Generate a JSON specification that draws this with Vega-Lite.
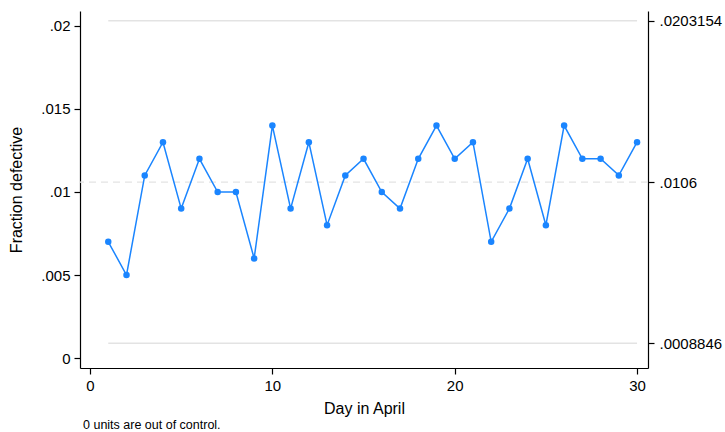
{
  "$schema": "https://vega.github.io/schema/vega-lite/v6.json",
  "width": 568,
  "height": 357,
  "autosize": {"type": "none"},
  "padding": {"left": 80, "top": 11, "right": 77, "bottom": 64},
  "background": "white",
  "config": {
    "view": {"stroke": null},
    "font": "Liberation Sans",
    "axis": {
      "grid": false,
      "domainColor": "#000000",
      "domainWidth": 1.2,
      "tickColor": "#000000",
      "tickWidth": 1.2,
      "tickSize": 6,
      "labelFont": "Liberation Sans",
      "labelFontSize": 15,
      "labelColor": "#000000",
      "titleFont": "Liberation Sans",
      "titleFontSize": 16,
      "titleFontWeight": "normal",
      "titleColor": "#000000"
    }
  },
  "title": {
    "text": "0 units are out of control.",
    "orient": "bottom",
    "anchor": "start",
    "frame": "group",
    "fontSize": 12.5,
    "fontWeight": "normal",
    "font": "Liberation Sans",
    "color": "#000000",
    "dx": 3,
    "offset": 3
  },
  "datasets": {
    "samples": [
      {"day": 1, "p": 0.007}, {"day": 2, "p": 0.005}, {"day": 3, "p": 0.011},
      {"day": 4, "p": 0.013}, {"day": 5, "p": 0.009}, {"day": 6, "p": 0.012},
      {"day": 7, "p": 0.010}, {"day": 8, "p": 0.010}, {"day": 9, "p": 0.006},
      {"day": 10, "p": 0.014}, {"day": 11, "p": 0.009}, {"day": 12, "p": 0.013},
      {"day": 13, "p": 0.008}, {"day": 14, "p": 0.011}, {"day": 15, "p": 0.012},
      {"day": 16, "p": 0.010}, {"day": 17, "p": 0.009}, {"day": 18, "p": 0.012},
      {"day": 19, "p": 0.014}, {"day": 20, "p": 0.012}, {"day": 21, "p": 0.013},
      {"day": 22, "p": 0.007}, {"day": 23, "p": 0.009}, {"day": 24, "p": 0.012},
      {"day": 25, "p": 0.008}, {"day": 26, "p": 0.014}, {"day": 27, "p": 0.012},
      {"day": 28, "p": 0.012}, {"day": 29, "p": 0.011}, {"day": 30, "p": 0.013}
    ],
    "limits": [
      {"first": 1, "last": 30, "ucl": 0.0203154, "cl": 0.0106, "lcl": 0.0008846}
    ]
  },
  "resolve": {"axis": {"y": "independent"}},
  "layer": [
    {
      "data": {"name": "limits"},
      "mark": {"type": "rule", "color": "#e3e3e3", "strokeWidth": 1.3, "strokeDash": [7, 5]},
      "encoding": {
        "y": {
          "field": "cl", "type": "quantitative",
          "scale": {"domain": [-0.0006, 0.0209], "nice": false, "zero": false},
          "axis": {
            "orient": "left",
            "title": "Fraction defective",
            "values": [0, 0.005, 0.01, 0.015, 0.02],
            "labelExpr": "datum.value == 0 ? '0' : substring(format(datum.value, '~g'), 1)",
            "labelPadding": 4,
            "titlePadding": 16
          }
        }
      }
    },
    {
      "data": {"name": "limits"},
      "mark": {"type": "rule", "color": "#e3e3e3", "strokeWidth": 1.5},
      "encoding": {
        "x": {
          "field": "first", "type": "quantitative",
          "scale": {"domain": [-0.55, 30.6], "nice": false, "zero": false},
          "axis": {
            "title": "Day in April",
            "values": [0, 10, 20, 30],
            "labelPadding": 4,
            "titlePadding": 7
          }
        },
        "x2": {"field": "last"},
        "y": {
          "field": "ucl", "type": "quantitative",
          "axis": {
            "orient": "right",
            "title": null,
            "values": [0.0008846, 0.0106, 0.0203154],
            "labelExpr": "substring(format(datum.value, '~g'), 1)",
            "labelPadding": 5
          }
        }
      }
    },
    {
      "data": {"name": "limits"},
      "mark": {"type": "rule", "color": "#e3e3e3", "strokeWidth": 1.5},
      "encoding": {
        "x": {"field": "first", "type": "quantitative"},
        "x2": {"field": "last"},
        "y": {"field": "lcl", "type": "quantitative", "axis": null}
      }
    },
    {
      "data": {"name": "samples"},
      "mark": {
        "type": "line",
        "color": "#1a85ff",
        "strokeWidth": 1.5,
        "point": {"filled": true, "size": 42, "color": "#1a85ff"}
      },
      "encoding": {
        "x": {"field": "day", "type": "quantitative"},
        "y": {"field": "p", "type": "quantitative", "axis": null}
      }
    }
  ]
}
